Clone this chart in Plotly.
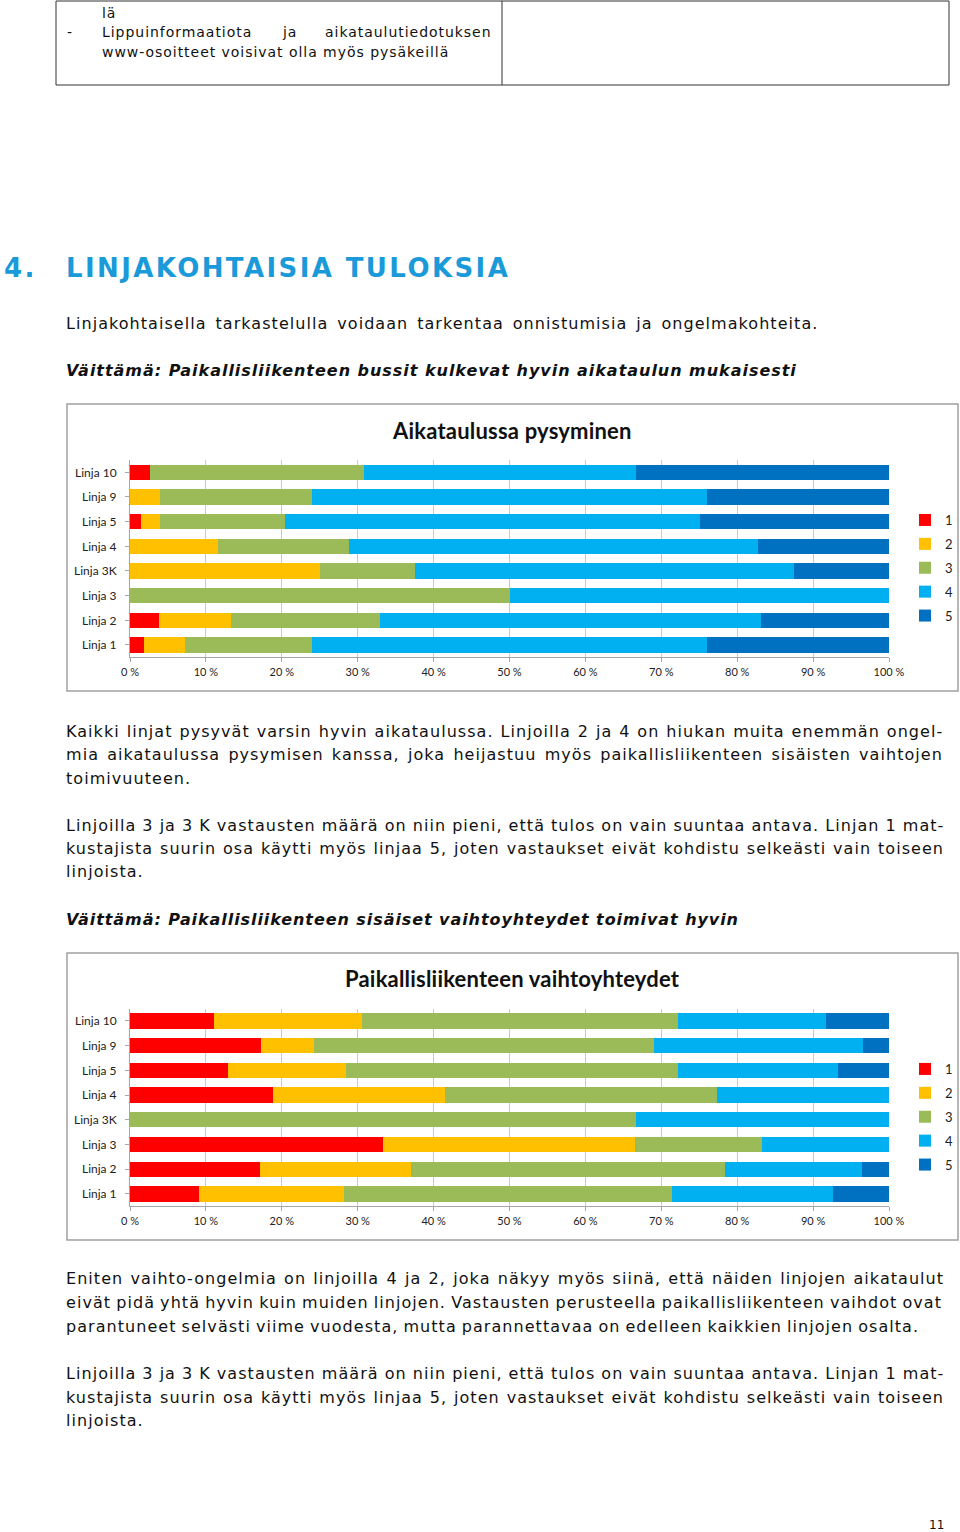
import plotly.graph_objects as go

# figure canvas (a little wider than the 960 window, see post_script/offset below)
FW, H = 985, 1532
SX = 960 / 985.0

# ---------------- data ----------------
lines = ["Linja 1", "Linja 2", "Linja 3", "Linja 3K", "Linja 4", "Linja 5", "Linja 9", "Linja 10"]
levels = ["1", "2", "3", "4", "5"]
colors = ["#ff0000", "#ffc000", "#9bbb59", "#00b0f0", "#0070c0"]

# Chart 1: Aikataulussa pysyminen (% per answer level), order matches `lines`
ajt_1 = [1.9, 3.8, 0.0, 0.0, 0.0, 1.5, 0.0, 2.6]
ajt_2 = [5.4, 9.5, 0.0, 25.0, 11.6, 2.5, 4.0, 0.0]
ajt_3 = [16.7, 19.7, 50.0, 12.5, 17.2, 16.4, 20.0, 28.2]
ajt_4 = [52.0, 50.1, 50.0, 50.0, 53.9, 54.7, 52.0, 35.9]
ajt_5 = [24.0, 16.9, 0.0, 12.5, 17.3, 24.9, 24.0, 33.3]

# Chart 2: Paikallisliikenteen vaihtoyhteydet
vai_1 = [9.1, 17.1, 33.3, 0.0, 18.8, 12.9, 17.3, 11.1]
vai_2 = [19.1, 19.9, 33.3, 0.0, 22.7, 15.5, 6.9, 19.4]
vai_3 = [43.2, 41.4, 16.7, 66.7, 35.9, 43.8, 44.8, 41.7]
vai_4 = [21.2, 18.0, 16.7, 33.3, 22.6, 21.1, 27.6, 19.5]
vai_5 = [7.4, 3.6, 0.0, 0.0, 0.0, 6.7, 3.4, 8.3]

tick_vals = [0, 10, 20, 30, 40, 50, 60, 70, 80, 90, 100]
tick_text = ["0 %", "10 %", "20 %", "30 %", "40 %", "50 %", "60 %", "70 %", "80 %", "90 %", "100 %"]

title1 = "Aikataulussa pysyminen"
title2 = "Paikallisliikenteen vaihtoyhteydet"

# ---------------- helpers ----------------
def px(x):
    return (x / SX) / FW

def py(y):
    return 1 - y / H

fig = go.Figure()

series1 = [ajt_1, ajt_2, ajt_3, ajt_4, ajt_5]
series2 = [vai_1, vai_2, vai_3, vai_4, vai_5]

for lev, col, vals in zip(levels, colors, series1):
    fig.add_trace(go.Bar(y=lines, x=vals, name=lev, orientation="h",
                         marker=dict(color=col, line=dict(width=0)),
                         xaxis="x", yaxis="y", legend="legend",
                         legendgroup="a" + lev, hoverinfo="x+y+name"))
for lev, col, vals in zip(levels, colors, series2):
    fig.add_trace(go.Bar(y=lines, x=vals, name=lev, orientation="h",
                         marker=dict(color=col, line=dict(width=0)),
                         xaxis="x2", yaxis="y2", legend="legend2",
                         legendgroup="b" + lev, hoverinfo="x+y+name"))

chart_font = dict(family="Lato, Calibri, Arial", size=11, color="#222222")

def xaxis_cfg(anchor):
    return dict(domain=[px(129), px(888)], range=[0, 100], anchor=anchor,
                tickvals=tick_vals, ticktext=tick_text, tickfont=chart_font,
                showgrid=True, gridcolor="#c9c9c9", gridwidth=1,
                showline=True, linecolor="#a6a6a6", linewidth=1,
                ticks="outside", ticklen=4, tickcolor="#a6a6a6",
                zeroline=False, fixedrange=True)

def yaxis_cfg(anchor, top, bottom):
    return dict(domain=[py(bottom), py(top)], anchor=anchor,
                type="category", categoryorder="array", categoryarray=lines,
                tickfont=dict(family="Lato, Calibri, Arial", size=12, color="#222222"),
                showline=True, linecolor="#a6a6a6", linewidth=1,
                ticks="outside", ticklen=4, tickcolor="#a6a6a6",
                ticklabelstandoff=6,
                showgrid=False, fixedrange=True)

legend_common = dict(orientation="v", x=px(904), xanchor="left", yanchor="middle",
                     traceorder="grouped", tracegroupgap=4,
                     font=dict(family="Lato, Calibri, Arial", size=13, color="#222222"),
                     bgcolor="rgba(0,0,0,0)", itemwidth=30)

fig.update_layout(
    width=FW, height=H, autosize=False, margin=dict(l=0, r=0, t=0, b=0),
    paper_bgcolor="white", plot_bgcolor="white",
    barmode="stack", bargap=0.38, showlegend=True,
    xaxis=xaxis_cfg("y"), yaxis=yaxis_cfg("x", 460, 657.3),
    xaxis2=xaxis_cfg("y2"), yaxis2=yaxis_cfg("x2", 1008.5, 1206.3),
    legend=dict(legend_common, y=py(568)),
    legend2=dict(legend_common, y=py(1117)),
)

shapes = []
line_black = dict(color="#333333", width=1)
for (x0, y0, x1, y1) in [(55, 1, 948, 1), (55, 85, 948, 85), (55, 1, 55, 85),
                         (501, 1, 501, 85), (948, 1, 948, 85)]:
    shapes.append(dict(type="line", xref="paper", yref="paper",
                       x0=px(x0), y0=py(y0), x1=px(x1), y1=py(y1), line=line_black))
for (x0, y0, x1, y1) in [(66, 404, 957, 691), (66, 953, 957, 1240)]:
    shapes.append(dict(type="rect", xref="paper", yref="paper",
                       x0=px(x0), y0=py(y0), x1=px(x1), y1=py(y1),
                       line=dict(color="#a0a0a0", width=1.5), fillcolor="rgba(0,0,0,0)", layer="below"))
fig.update_layout(shapes=shapes)

BODY_FAMILY = "DejaVu Sans, Verdana, sans-serif"
body = dict(family=BODY_FAMILY, size=16, color="#111111")
table_font = dict(family=BODY_FAMILY, size=14, color="#111111")

def sp(s, ls, ws=0.0):
    style = "letter-spacing:%.2fpx" % ls
    if ws:
        style += ";word-spacing:%.2fpx" % ws
    return '<span style="%s">%s</span>' % (style, s)

LEFT_PAD = 3  # annotation inner padding compensation for left-aligned text

def txt(x, y, s, font=None, anchor="left"):
    if anchor == "left":
        x = x - LEFT_PAD
    return dict(text=s, x=px(x), y=py(y), xref="paper", yref="paper",
                xanchor=anchor, yanchor="middle", showarrow=False,
                font=font or body, align="left")

ann = []
TLS = 0.96
ann.append(txt(102, 13, sp("lä", TLS), table_font))
ann.append(txt(67, 32, "-", table_font))
ann.append(txt(102, 32, sp("Lippuinformaatiota", TLS), table_font))
ann.append(txt(288, 32, sp("ja", TLS), table_font, anchor="center"))
ann.append(txt(493, 32, sp("aikataulutiedotuksen", TLS), table_font, anchor="right"))
ann.append(txt(102, 52, sp("www-osoitteet voisivat olla myös pysäkeillä", TLS), table_font))

head = dict(family=BODY_FAMILY, size=26, color="#1a9ad8")
ann.append(txt(4, 268, sp("<b>4.</b>", 2.4), head))
ann.append(txt(66, 268, sp("<b>LINJAKOHTAISIA TULOKSIA</b>", 2.4), head))

LS = 1.05
ann.append(txt(66, 323, sp("Linjakohtaisella tarkastelulla voidaan tarkentaa onnistumisia ja ongelmakohteita.", LS, 2.8)))
ann.append(txt(66, 370, sp("<b><i>Väittämä: Paikallisliikenteen bussit kulkevat hyvin aikataulun mukaisesti</i></b>", 0.97)))

ctitle = dict(family="Lato, Calibri, Arial", size=22, color="#111111")
ann.append(txt(511, 430, sp("<b>" + title1 + "</b>", 0.2), ctitle, anchor="center"))
ann.append(txt(511, 978, sp("<b>" + title2 + "</b>", 0.2), ctitle, anchor="center"))

# (y, text, word-spacing used to imitate the justified block)
para = [
    (731, "Kaikki linjat pysyvät varsin hyvin aikataulussa. Linjoilla 2 ja 4 on hiukan muita enemmän ongel-", 0.79),
    (754, "mia aikataulussa pysymisen kanssa, joka heijastuu myös paikallisliikenteen sisäisten vaihtojen", 2.1),
    (778, "toimivuuteen.", 0.0),
    (825, "Linjoilla 3 ja 3 K vastausten määrä on niin pieni, että tulos on vain suuntaa antava. Linjan 1 mat-", -0.1),
    (848, "kustajista suurin osa käytti myös linjaa 5, joten vastaukset eivät kohdistu selkeästi vain toiseen", 0.73),
    (872, "linjoista.", 0.0),
    (1278, "Eniten vaihto-ongelmia on linjoilla 4 ja 2, joka näkyy myös siinä, että näiden linjojen aikataulut", 1.14),
    (1302, "eivät pidä yhtä hyvin kuin muiden linjojen. Vastausten perusteella paikallisliikenteen vaihdot ovat", -1.0),
    (1326, "parantuneet selvästi viime vuodesta, mutta parannettavaa on edelleen kaikkien linjojen osalta.", -1.1),
    (1373, "Linjoilla 3 ja 3 K vastausten määrä on niin pieni, että tulos on vain suuntaa antava. Linjan 1 mat-", -0.1),
    (1397, "kustajista suurin osa käytti myös linjaa 5, joten vastaukset eivät kohdistu selkeästi vain toiseen", 0.73),
    (1420, "linjoista.", 0.0),
]
for y, s, ws in para:
    ann.append(txt(66, y, sp(s, LS, ws)))
ann.append(txt(66, 919, sp("<b><i>Väittämä: Paikallisliikenteen sisäiset vaihtoyhteydet toimivat hyvin</i></b>", 0.93)))
ann.append(txt(945, 1525, "11", dict(family=BODY_FAMILY, size=12, color="#111111"), anchor="right"))

fig.update_layout(annotations=ann)

post = (
    "document.documentElement.style.margin='0';"
    "document.documentElement.style.padding='0';"
    "document.documentElement.style.overflow='hidden';"
    "document.body.style.margin='0';"
    "document.body.style.padding='0';"
    "document.body.style.overflow='hidden';"
    "var d=document.getElementById('{plot_id}');"
    "d.style.position='absolute';d.style.left='-8px';d.style.top='0px';"
)
fig.write_html("out.html",
               config={"responsive": False, "displayModeBar": False},
               post_script=post)
